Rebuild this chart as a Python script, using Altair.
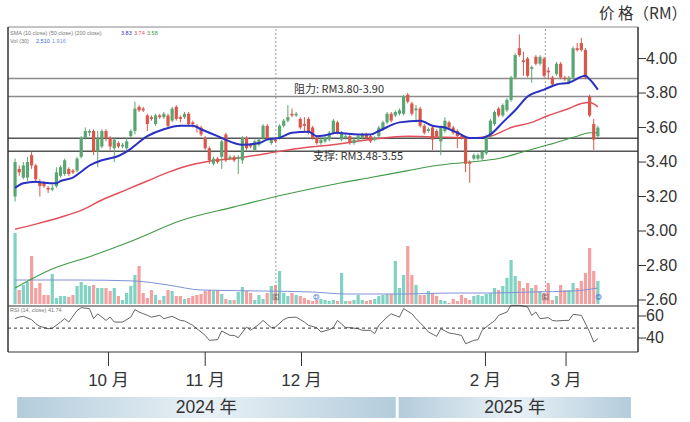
import altair as alt
import pandas as pd

# ---------------- data ----------------
opens = [3.20, 3.36, 3.31, 3.31, 3.44, 3.38, 3.28, 3.28, 3.25, 3.24,
         3.26, 3.32, 3.33, 3.36, 3.35, 3.35, 3.43, 3.54, 3.57, 3.58,
         3.46, 3.49, 3.58, 3.54, 3.48, 3.51, 3.49, 3.48, 3.55, 3.58,
         3.72, 3.71, 3.67, 3.66, 3.62, 3.67, 3.66, 3.67, 3.64, 3.72,
         3.66, 3.66, 3.68, 3.63, 3.61, 3.60, 3.54, 3.48, 3.39, 3.42,
         3.43, 3.56, 3.42, 3.43, 3.42, 3.41, 3.54, 3.50, 3.47, 3.50,
         3.54, 3.61, 3.51, 3.53, 3.54, 3.61, 3.64, 3.68, 3.67, 3.65,
         3.62, 3.65, 3.60, 3.54, 3.51, 3.52, 3.53, 3.57, 3.63, 3.53,
         3.54, 3.55, 3.51, 3.53, 3.54, 3.56, 3.55, 3.53, 3.55, 3.59,
         3.63, 3.68, 3.67, 3.68, 3.68, 3.79, 3.74, 3.70, 3.71, 3.61,
         3.58, 3.60, 3.58, 3.52, 3.58, 3.63, 3.60, 3.58, 3.55, 3.54,
         3.40, 3.42, 3.42, 3.42, 3.45, 3.55, 3.62, 3.71, 3.67, 3.70,
         3.76, 3.89, 4.06, 3.99, 4.00, 3.94, 4.01, 3.97, 4.00, 3.93,
         3.89, 3.91, 3.97, 3.89, 3.86, 3.89, 4.06, 4.09, 4.05, 3.78,
         3.62, 3.55]
closes = [3.40, 3.34, 3.38, 3.40, 3.38, 3.30, 3.26, 3.26, 3.24, 3.25,
          3.34, 3.37, 3.41, 3.33, 3.34, 3.42, 3.54, 3.58, 3.58, 3.46,
          3.54, 3.58, 3.54, 3.49, 3.53, 3.49, 3.50, 3.52, 3.58, 3.71,
          3.70, 3.70, 3.62, 3.65, 3.67, 3.66, 3.68, 3.61, 3.71, 3.65,
          3.65, 3.68, 3.62, 3.62, 3.60, 3.56, 3.48, 3.41, 3.42, 3.40,
          3.52, 3.41, 3.43, 3.41, 3.43, 3.54, 3.48, 3.49, 3.52, 3.53,
          3.61, 3.54, 3.53, 3.52, 3.61, 3.64, 3.66, 3.67, 3.68, 3.60,
          3.61, 3.57, 3.54, 3.51, 3.53, 3.54, 3.57, 3.64, 3.57, 3.57,
          3.55, 3.51, 3.53, 3.55, 3.56, 3.54, 3.52, 3.54, 3.60, 3.63,
          3.68, 3.64, 3.69, 3.70, 3.78, 3.75, 3.68, 3.71, 3.61, 3.57,
          3.59, 3.53, 3.55, 3.60, 3.64, 3.60, 3.57, 3.55, 3.54, 3.39,
          3.39, 3.44, 3.44, 3.46, 3.55, 3.64, 3.69, 3.67, 3.73, 3.76,
          3.89, 4.02, 4.02, 3.98, 3.90, 3.95, 3.97, 4.01, 3.90, 3.92,
          3.85, 3.97, 3.89, 3.88, 3.89, 4.06, 4.05, 4.05, 3.89, 3.67,
          3.53, 3.60]
highs = [3.42, 3.38, 3.40, 3.43, 3.46, 3.39, 3.30, 3.29, 3.26, 3.27,
         3.37, 3.38, 3.42, 3.37, 3.36, 3.43, 3.55, 3.60, 3.59, 3.59,
         3.58, 3.59, 3.59, 3.55, 3.54, 3.52, 3.51, 3.54, 3.59, 3.75,
         3.73, 3.72, 3.68, 3.67, 3.68, 3.68, 3.69, 3.68, 3.72, 3.73,
         3.67, 3.69, 3.69, 3.64, 3.62, 3.61, 3.55, 3.49, 3.43, 3.43,
         3.53, 3.57, 3.44, 3.44, 3.44, 3.55, 3.55, 3.51, 3.53, 3.54,
         3.62, 3.62, 3.54, 3.54, 3.62, 3.65, 3.73, 3.71, 3.69, 3.66,
         3.66, 3.66, 3.61, 3.55, 3.54, 3.55, 3.58, 3.65, 3.64, 3.58,
         3.56, 3.56, 3.54, 3.56, 3.57, 3.57, 3.56, 3.55, 3.61, 3.64,
         3.69, 3.69, 3.70, 3.71, 3.79, 3.80, 3.75, 3.73, 3.72, 3.62,
         3.60, 3.61, 3.59, 3.61, 3.66, 3.64, 3.61, 3.59, 3.56, 3.55,
         3.41, 3.45, 3.45, 3.47, 3.56, 3.65, 3.70, 3.72, 3.74, 3.77,
         3.90, 4.03, 4.14, 4.04, 4.01, 3.96, 4.02, 4.02, 4.01, 3.95,
         3.90, 3.98, 3.98, 3.90, 3.90, 4.07, 4.09, 4.12, 4.06, 3.79,
         3.65, 3.61]
lows = [3.17, 3.32, 3.30, 3.29, 3.36, 3.28, 3.20, 3.25, 3.22, 3.23,
        3.25, 3.31, 3.32, 3.32, 3.33, 3.34, 3.42, 3.53, 3.55, 3.44,
        3.37, 3.48, 3.52, 3.47, 3.40, 3.48, 3.48, 3.47, 3.54, 3.56,
        3.69, 3.69, 3.58, 3.64, 3.61, 3.65, 3.65, 3.60, 3.63, 3.64,
        3.63, 3.65, 3.61, 3.60, 3.57, 3.55, 3.47, 3.39, 3.38, 3.39,
        3.36, 3.40, 3.41, 3.40, 3.33, 3.39, 3.47, 3.48, 3.46, 3.49,
        3.53, 3.53, 3.50, 3.51, 3.53, 3.60, 3.63, 3.66, 3.66, 3.59,
        3.58, 3.56, 3.53, 3.50, 3.50, 3.51, 3.52, 3.56, 3.56, 3.52,
        3.53, 3.50, 3.50, 3.52, 3.53, 3.53, 3.51, 3.52, 3.54, 3.58,
        3.62, 3.63, 3.66, 3.67, 3.67, 3.74, 3.67, 3.63, 3.60, 3.56,
        3.57, 3.47, 3.54, 3.44, 3.57, 3.59, 3.56, 3.48, 3.53, 3.34,
        3.28, 3.41, 3.41, 3.41, 3.44, 3.54, 3.61, 3.66, 3.66, 3.69,
        3.75, 3.88, 4.01, 3.90, 3.89, 3.86, 3.96, 3.96, 3.89, 3.88,
        3.84, 3.90, 3.88, 3.87, 3.85, 3.88, 4.04, 4.04, 3.88, 3.66,
        3.47, 3.54]
volume = [71, 14, 19, 22, 48, 16, 21, 9, 9, 30, 6, 8, 8, 7, 9, 18, 22, 19, 18, 19,
          16,
          16, 16, 13, 16, 8, 4, 11, 18, 29, 38, 11, 6, 14, 9, 4, 8, 14, 13, 8, 8,
          5, 6, 8, 9, 10, 13, 14, 13, 14, 10,
          5,
          4, 4, 12, 17, 13, 11, 4, 9, 5, 11, 18, 19, 33, 11, 8, 11, 9, 8, 6, 4,
          3, 4, 5, 4, 3,
          4,
          3, 31, 3, 3, 4, 9, 4, 3, 4, 5, 8, 9, 10, 10, 43, 16, 29, 58, 29, 19,
          9, 9, 13, 11, 8, 4, 3, 1, 5, 3, 9, 6, 4, 8, 9,
          8,
          10, 11, 16, 14, 18, 26, 44, 28, 23, 16, 21, 16, 19, 13, 11, 21, 4, 8,
          19, 14, 14, 21, 16, 23, 31, 56, 33, 23]

vma_day = [0, 15, 29, 37, 45, 60, 72, 80, 95, 105, 115, 125, 135, 141]
vma_val = [24, 24, 23, 19, 14, 13, 12, 10, 10, 11, 11, 12, 13, 16]

blue_day = [0, 2, 5, 7, 10, 11, 14, 16, 18, 21, 25, 27, 32, 36, 40, 43, 45, 49,
            53, 55, 59, 61, 64, 67, 71, 73, 75, 78, 80, 83, 86, 88, 93, 98, 101,
            104, 107, 110, 113, 115, 118, 121, 124, 128, 131, 134, 138, 139, 141]
blue_val = [3.25, 3.277, 3.286, 3.28, 3.277, 3.29, 3.31, 3.344, 3.38, 3.41, 3.435,
            3.46, 3.55, 3.59, 3.61, 3.61, 3.59, 3.55, 3.51, 3.50, 3.51, 3.53, 3.54,
            3.57, 3.575, 3.55, 3.555, 3.57, 3.565, 3.56, 3.56, 3.58, 3.63, 3.64,
            3.61, 3.60, 3.57, 3.54, 3.54, 3.56, 3.63, 3.70, 3.78, 3.82, 3.85, 3.86,
            3.90, 3.88, 3.82]
red_day = [0, 5, 11, 16, 21, 27, 32, 37, 42, 47, 53, 61, 69, 77, 86, 95, 102,
           110, 115, 120, 125, 129, 134, 137, 139, 141]
red_val = [3.01, 3.04, 3.08, 3.12, 3.18, 3.24, 3.29, 3.34, 3.38, 3.405, 3.42,
           3.45, 3.48, 3.50, 3.53, 3.55, 3.545, 3.54, 3.55, 3.60, 3.63, 3.67,
           3.71, 3.74, 3.745, 3.72]
green_day = [0, 8, 19, 29, 40, 53, 65, 79, 86, 95, 102, 110, 117, 123, 129, 136,
             139, 141]
green_val = [2.67, 2.77, 2.86, 2.95, 3.06, 3.14, 3.21, 3.28, 3.31, 3.35, 3.38,
             3.40, 3.42, 3.46, 3.50, 3.55, 3.57, 3.57]

rsi_day = [0, 1, 2, 4, 5, 6, 8, 9, 11, 12, 13, 15, 16, 18, 19, 20, 22, 23, 24,
           26, 28, 29, 30, 32, 33, 35, 36, 38, 40, 41, 43, 44, 46, 47, 49, 50,
           52, 53, 54, 56, 57, 59, 60, 62, 63, 65, 66, 68, 70, 71, 73, 74, 76,
           77, 78, 80, 81, 83, 84, 86, 87, 88, 90, 91, 93, 94, 96, 97, 99, 100,
           102, 103, 105, 106, 108, 109, 111, 112, 113, 115, 116, 117, 119, 120,
           122, 124, 125, 126, 127, 129, 130, 131, 133, 134, 135, 137, 139, 140,
           141]
rsi_val = [57.6, 59, 59.7, 56.7, 53, 50.6, 48.5, 48.8, 54.5, 57.6, 54.5, 65,
           67.6, 66.7, 57.6, 62, 56, 59, 54.5, 54.5, 59, 65.8, 63.6, 60.6, 59,
           60.6, 57.6, 59.7, 56, 55.5, 51.5, 48.5, 42.4, 37.9, 38.5, 46.4, 42.4,
           42.4, 40.3, 50, 47, 52.4, 56, 49.4, 50, 56.7, 58.5, 59, 54.5, 51.5,
           49.4, 45.5, 47.6, 49.4, 56, 49.4, 49.4, 48.5, 47, 47, 44, 51.5, 59,
           62, 59, 66.7, 62, 57.6, 50, 45.5, 41.5, 48.5, 44.5, 44, 42.4, 34.8,
           37.9, 38.5, 47, 53, 55.5, 60.6, 63.6, 69.7, 69.7, 68.2, 60.6, 63.6,
           57.6, 58.5, 56, 55.5, 56, 56, 61.5, 60.6, 45.5, 36.4, 39.4]
rsi_mid = [49]

month_pos = [22.6, 46.0, 69.3, 113.8, 133.3]
month_lab = ["10 月", "11 月", "12 月", "2 月", "3 月"]
year_start = [0.5, 92.8]
year_end = [92.1, 149.0]
year_lab = ["2024 年", "2025 年"]
price_ticks = [2.6, 2.8, 3.0, 3.2, 3.4, 3.6, 3.8, 4.0]
rsi_ticks = [40, 60]
resist_lines = [3.885, 3.78]
support_lines = [3.538, 3.462]
event_e = [63.1, 128.3]
event_d = [72.9, 141.2]

# ---------------- styling ----------------
NUM = "Liberation Sans"
CJK = "Noto Sans CJK SC"
UP, DOWN = "#5aa672", "#d9564b"
VUP, VDOWN = "#80d2c2", "#f4a0a0"

XS = alt.Scale(domain=[-0.5, 149.5], range=[8, 638], nice=False, zero=False)
YP = alt.Scale(domain=[2.571, 4.183], range=[305, 27], nice=False, zero=False)
YV = alt.Scale(domain=[0, 278], range=[304, 26], nice=False, zero=False)
YR = alt.Scale(domain=[27.3, 70], range=[352, 305], nice=False, zero=False)


def X(f):
    return alt.X(f, scale=XS, axis=None)


df = pd.DataFrame({"i": list(range(len(opens))), "o": opens, "c": closes,
                   "h": highs, "l": lows, "v": volume})
df["dir"] = ["up" if c >= o else "down" for o, c in zip(opens, closes)]

one = pd.DataFrame({"a": [0]})


def txt(s, x, y, size, color="#333", align="left", font=NUM, baseline="middle"):
    return alt.Chart(pd.DataFrame({"t": [s]})).mark_text(
        align=align, baseline=baseline, fontSize=size, color=color, font=font
    ).encode(x=alt.value(x), y=alt.value(y), text="t:N")


def hline(x1, x2, y, color="#333", w=1.0):
    return alt.Chart(one).mark_rule(color=color, strokeWidth=w).encode(
        x=alt.value(x1), x2=alt.value(x2), y=alt.value(y))


def vline(x, y1, y2, color="#333", w=1.0):
    return alt.Chart(one).mark_rule(color=color, strokeWidth=w).encode(
        x=alt.value(x), y=alt.value(y1), y2=alt.value(y2))


# year bands
band_grad = alt.Gradient(
    gradient="linear",
    stops=[alt.GradientStop(color="#b3ccdb", offset=0),
           alt.GradientStop(color="#e9f1f6", offset=0.5),
           alt.GradientStop(color="#b3ccdb", offset=1)],
    x1=0, x2=1, y1=0, y2=0)
years = pd.DataFrame({"s": year_start, "e": year_end, "lab": year_lab,
                      "m": [(a + b) / 2 for a, b in zip(year_start, year_end)]})
year_rect = alt.Chart(years).mark_rect(color=band_grad).encode(
    x=X("s:Q"), x2="e:Q", y=alt.value(397), y2=alt.value(418))
year_txt = alt.Chart(years).mark_text(fontSize=17.5, font=f"{NUM}, {CJK}", color="#333",
                                      baseline="middle").encode(
    x=X("m:Q"), y=alt.value(408), text="lab:N")

# volume
vol = alt.Chart(df).mark_bar(size=3.2).encode(
    x=X("i:Q"), y=alt.Y("v:Q", scale=YV, axis=None),
    color=alt.Color("dir:N", scale=alt.Scale(domain=["up", "down"], range=[VUP, VDOWN]),
                    legend=None))
vma = alt.Chart(pd.DataFrame({"i": vma_day, "v": vma_val})).mark_line(
    color="#8090d8", strokeWidth=1, interpolate="monotone").encode(
    x=X("i:Q"), y=alt.Y("v:Q", scale=YV, axis=None))

# event dotted lines + markers
ev = pd.DataFrame({"i": event_e, "t": ["E", "E"]})
evd = pd.DataFrame({"i": event_d, "t": ["D", "D"]})
ev_lines = alt.Chart(ev).mark_rule(color="#9a9a9a", strokeDash=[2, 2], strokeWidth=1).encode(
    x=X("i:Q"), y=alt.value(29), y2=alt.value(293))
ev_sq = alt.Chart(ev).mark_point(shape="square", size=30, color="#555", filled=False,
                                  strokeWidth=0.8).encode(x=X("i:Q"), y=alt.value(297))
ev_t = alt.Chart(ev).mark_text(fontSize=5, color="#555", baseline="middle").encode(
    x=X("i:Q"), y=alt.value(297), text="t:N")
evd_c = alt.Chart(evd).mark_point(shape="circle", size=30, color="#4466dd", filled=False,
                                   strokeWidth=0.8).encode(x=X("i:Q"), y=alt.value(297))
evd_t = alt.Chart(evd).mark_text(fontSize=5, color="#4466dd", baseline="middle").encode(
    x=X("i:Q"), y=alt.value(297), text="t:N")

# support / resistance lines
res = alt.Chart(pd.DataFrame({"p": resist_lines})).mark_rule(color="#8c8c8c", strokeWidth=1.5).encode(
    x=alt.value(8), x2=alt.value(638), y=alt.Y("p:Q", scale=YP, axis=None))
sup = alt.Chart(pd.DataFrame({"p": support_lines})).mark_rule(color="#555555", strokeWidth=1.5).encode(
    x=alt.value(8), x2=alt.value(638), y=alt.Y("p:Q", scale=YP, axis=None))

# candles
cscale = alt.Scale(domain=["up", "down"], range=[UP, DOWN])
wick = alt.Chart(df).mark_rule(strokeWidth=1).encode(
    x=X("i:Q"), y=alt.Y("l:Q", scale=YP, axis=None), y2="h:Q",
    color=alt.Color("dir:N", scale=cscale, legend=None))
body = alt.Chart(df).mark_bar(size=3.2).encode(
    x=X("i:Q"), y=alt.Y("o:Q", scale=YP, axis=None), y2="c:Q",
    color=alt.Color("dir:N", scale=cscale, legend=None))


def ma(days, vals, color, w):
    return alt.Chart(pd.DataFrame({"i": days, "p": vals})).mark_line(
        color=color, strokeWidth=w, interpolate="monotone").encode(
        x=X("i:Q"), y=alt.Y("p:Q", scale=YP, axis=None))


ma_g = ma(green_day, green_val, "#3f9a45", 1.1)
ma_r = ma(red_day, red_val, "#e2505c", 1.5)
ma_b = ma(blue_day, blue_val, "#2a30c0", 2.0)

# RSI
rsi = alt.Chart(pd.DataFrame({"i": rsi_day, "r": rsi_val})).mark_line(
    color="#555", strokeWidth=0.9).encode(x=X("i:Q"), y=alt.Y("r:Q", scale=YR, axis=None))
rsi_dash = alt.Chart(pd.DataFrame({"r": rsi_mid})).mark_rule(
    color="#333", strokeDash=[3, 3], strokeWidth=1).encode(
    x=alt.value(8), x2=alt.value(638), y=alt.Y("r:Q", scale=YR, axis=None))

# axes (right side)
pt = pd.DataFrame({"p": price_ticks})
p_tick = alt.Chart(pt).mark_rule(color="#333", strokeWidth=1).encode(
    x=alt.value(638), x2=alt.value(646), y=alt.Y("p:Q", scale=YP, axis=None))
p_lab = alt.Chart(pt).mark_text(align="left", baseline="middle", fontSize=16, font=NUM,
                                 color="#333").encode(
    x=alt.value(646), y=alt.Y("p:Q", scale=YP, axis=None), text=alt.Text("p:Q", format=".2f"))
rt = pd.DataFrame({"r": rsi_ticks})
r_tick = alt.Chart(rt).mark_rule(color="#333", strokeWidth=1).encode(
    x=alt.value(638), x2=alt.value(646), y=alt.Y("r:Q", scale=YR, axis=None))
r_lab = alt.Chart(rt).mark_text(align="left", baseline="middle", fontSize=16, font=NUM,
                                 color="#333").encode(
    x=alt.value(646), y=alt.Y("r:Q", scale=YR, axis=None), text="r:Q")

# month axis
mt = pd.DataFrame({"m": month_pos, "lab": month_lab})
m_tick = alt.Chart(mt).mark_rule(color="#333", strokeWidth=1).encode(
    x=X("m:Q"), y=alt.value(352), y2=alt.value(366))
m_lab = alt.Chart(mt).mark_text(fontSize=17, font=f"{NUM}, {CJK}", color="#333",
                                 baseline="middle").encode(
    x=X("m:Q"), y=alt.value(381), text="lab:N")

# frame
frame = [
    hline(8, 638, 27, color="#888", w=1),
    hline(8, 638, 306, color="#333", w=1.2),
    hline(8, 638, 352, color="#333", w=1.2),
    vline(8, 27, 352, color="#333", w=1.5),
    vline(638, 27, 352, color="#333", w=1.5),
]

texts = [
    txt("价 格（RM）", 687, 14, 15.5, align="right", font=CJK),
    txt("阻力: RM3.80-3.90", 294, 90, 11, color="#333", font=CJK),
    txt("支撑: RM3.48-3.55", 313, 157, 11, color="#333", font=CJK),
    txt("SMA (10 close) (50 close) (200 close)", 10, 33, 5.5, color="#777"),
    txt("3.83", 121, 33, 5.5, color="#2a30c0"),
    txt("3.74", 134, 33, 5.5, color="#e2505c"),
    txt("3.58", 147, 33, 5.5, color="#3f9a45"),
    txt("Vol (30)", 10, 41, 5.5, color="#777"),
    txt("2.510", 36, 41, 5.5, color="#3366cc"),
    txt("1.916", 52, 41, 5.5, color="#7f8fd8"),
    txt("RSI (14, close) 41.74", 10, 310, 5.5, color="#777"),
]

layers = [year_rect, year_txt, vol, vma, ev_lines, res, sup, ma_g, ma_r,
          wick, body, ma_b, ev_sq, ev_t, evd_c, evd_t, rsi, rsi_dash,
          p_tick, p_lab, r_tick, r_lab, m_tick, m_lab] + frame + texts

chart = alt.layer(*layers).resolve_scale(y="independent", color="independent").properties(
    width=690, height=422,
    autosize=alt.AutoSizeParams(type="none"),
    padding=0,
    background="white",
).configure_view(stroke=None)

chart.save("out.html", embed_options={"renderer": "svg", "actions": False})
